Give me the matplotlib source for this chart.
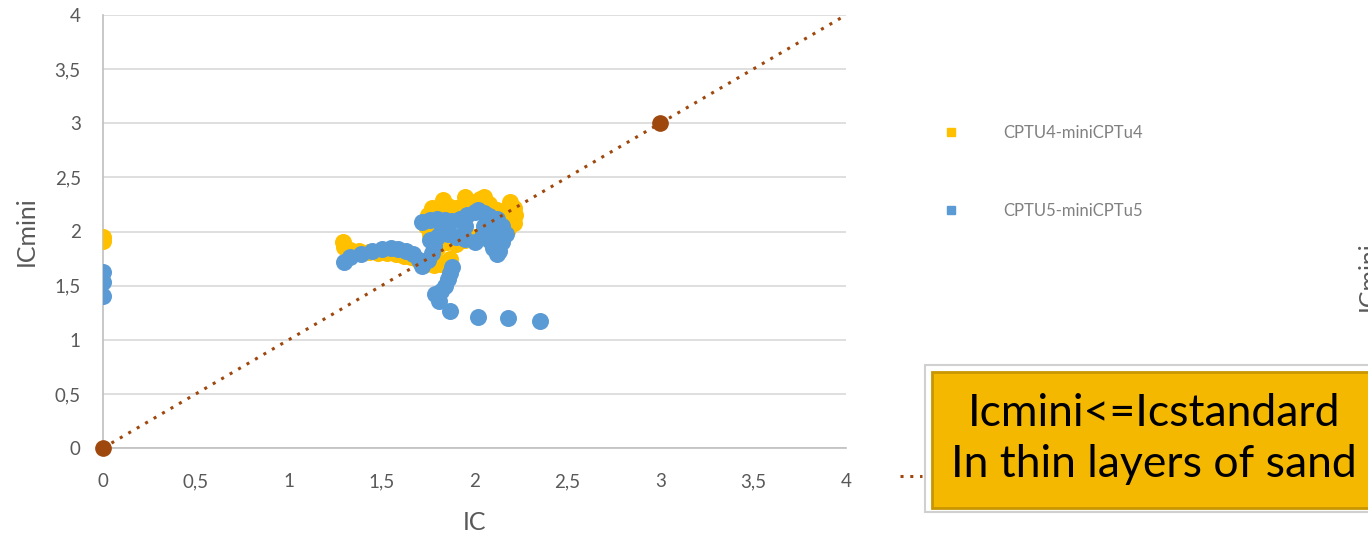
import matplotlib.pyplot as plt
from matplotlib.patches import Rectangle
from matplotlib.lines import Line2D
from matplotlib.ticker import FuncFormatter

plt.rcParams['font.family'] = ['Lato', 'DejaVu Sans']

# CPTU4-miniCPTu4 (IC, ICmini)
ic4 = [0, 0,
       1.29, 1.30, 1.33, 1.38, 1.43, 1.48, 1.53, 1.58, 1.62, 1.66, 1.70, 1.74, 1.78, 1.82, 1.85, 1.87,
       1.74, 1.75, 1.77, 1.80, 1.83, 1.86, 1.90, 1.95, 1.98, 2.03, 2.05, 2.08, 2.12, 2.15, 2.19, 2.21,
       2.22, 2.21, 2.18, 2.14, 1.76, 1.80, 1.85, 1.90, 1.95, 2.00, 1.78, 1.80]
icmini4 = [1.95, 1.91,
           1.90, 1.86, 1.83, 1.82, 1.81, 1.80, 1.80, 1.79, 1.77, 1.76, 1.73, 1.70, 1.69, 1.70, 1.72, 1.75,
           2.05, 2.15, 2.22, 2.20, 2.29, 2.24, 2.22, 2.32, 2.27, 2.30, 2.32, 2.25, 2.20, 2.18, 2.27, 2.22,
           2.15, 2.08, 2.02, 1.96, 1.97, 1.93, 1.90, 1.88, 1.92, 1.95, 1.80, 1.85]

# CPTU5-miniCPTu5
ic5 = [0, 0, 0,
       1.30, 1.33, 1.39, 1.45, 1.50, 1.55, 1.59, 1.63, 1.67, 1.70, 1.72, 1.75, 1.77, 1.78, 1.76,
       1.72, 1.76, 1.80, 1.84, 1.88, 1.92, 1.96, 2.00, 2.02, 2.05, 2.08, 2.12, 2.15, 2.17, 2.15,
       2.13, 2.12, 2.10, 2.08, 2.04, 2.00, 1.95, 1.90, 1.86, 1.82, 1.80, 1.85, 1.95, 2.05, 2.10,
       1.88, 1.87, 1.86, 1.84, 1.82, 1.79, 1.81, 1.87, 2.02, 2.18, 2.35]
icmini5 = [1.63, 1.53, 1.40,
           1.72, 1.76, 1.79, 1.82, 1.84, 1.85, 1.84, 1.82, 1.79, 1.74, 1.68, 1.74, 1.80, 1.87, 1.92,
           2.09, 2.11, 2.12, 2.11, 2.10, 2.12, 2.15, 2.18, 2.20, 2.17, 2.14, 2.12, 2.05, 1.98, 1.90,
           1.82, 1.79, 1.85, 1.92, 1.95, 1.90, 1.93, 1.95, 1.98, 2.00, 1.95, 2.05, 2.05, 2.05, 2.00,
           1.67, 1.62, 1.56, 1.50, 1.45, 1.42, 1.36, 1.27, 1.21, 1.20, 1.17]

# 1:1 line
line_x = [0, 3, 4]
line_y = [0, 3, 4]

fig = plt.figure(figsize=(13.68, 5.38), dpi=100)
ax = fig.add_axes([103 / 1368, 1 - 448 / 538, 743 / 1368, 433 / 538])

ax.scatter(ic4, icmini4, s=150, color='#FFC000', zorder=3, linewidths=0)
ax.scatter(ic5, icmini5, s=150, color='#5B9BD5', zorder=4, linewidths=0)
ax.plot(line_x, line_y, color='#9E480E', linestyle=(0, (1, 2.2)), linewidth=2.2,
        marker='o', markersize=11, markevery=[0, 1], zorder=5, clip_on=False)

ax.set_xlim(0, 4)
ax.set_ylim(0, 4)
ax.set_xticks([0, 0.5, 1, 1.5, 2, 2.5, 3, 3.5, 4])
ax.set_yticks([0, 0.5, 1, 1.5, 2, 2.5, 3, 3.5, 4])
fmt = FuncFormatter(lambda v, p: ('%g' % v).replace('.', ','))
ax.xaxis.set_major_formatter(fmt)
ax.yaxis.set_major_formatter(fmt)
ax.grid(axis='y', color='#D9D9D9', linewidth=1.2)
ax.set_axisbelow(True)
for s in ['top', 'right']:
    ax.spines[s].set_visible(False)
for s in ['left', 'bottom']:
    ax.spines[s].set_color('#BFBFBF')
    ax.spines[s].set_linewidth(1.2)
ax.tick_params(length=0, colors='#595959', labelsize=13.5)
ax.tick_params(axis='x', pad=18)
ax.tick_params(axis='y', pad=16)
ax.set_xlabel('IC', fontsize=18, color='#595959', labelpad=15)
ax.set_ylabel('ICmini', fontsize=18, color='#595959', labelpad=12)

handles = [Line2D([], [], marker='s', linestyle='', color='#FFC000', markersize=6),
           Line2D([], [], marker='s', linestyle='', color='#5B9BD5', markersize=6)]
fig.legend(handles, ['CPTU4-miniCPTu4', 'CPTU5-miniCPTu5'], loc='upper left',
           bbox_to_anchor=(928 / 1368, 1 - 110 / 538), frameon=False, fontsize=12,
           labelcolor='#808080', handlelength=1, handletextpad=2.6, labelspacing=3.7)

# annotation box
fig.patches.append(Rectangle((925 / 1368, 1 - 512 / 538), 0.4, 147 / 538,
                             transform=fig.transFigure, facecolor='white',
                             edgecolor='#D0D0D0', linewidth=1.5, zorder=1))
fig.patches.append(Rectangle((932 / 1368, 1 - 508 / 538), 0.4, 136 / 538,
                             transform=fig.transFigure, facecolor='#F5B800',
                             edgecolor='#C89600', linewidth=2, zorder=2))
fig.text(1154 / 1368, 1 - 439 / 538, 'Icmini<=Icstandard\nIn thin layers of sand',
         ha='center', va='center', fontsize=32, color='black', linespacing=1.32, zorder=3)
fig.lines.append(Line2D([900 / 1368, 922 / 1368], [1 - 476 / 538, 1 - 476 / 538],
                        transform=fig.transFigure, color='#9E480E',
                        linestyle=(0, (1, 2.2)), linewidth=2.2))
fig.text(1368 / 1368, 1 - 276 / 538, 'ICmini', rotation=90, ha='center', va='center',
         fontsize=18, color='#595959')

fig.savefig('out.png', dpi=100)
